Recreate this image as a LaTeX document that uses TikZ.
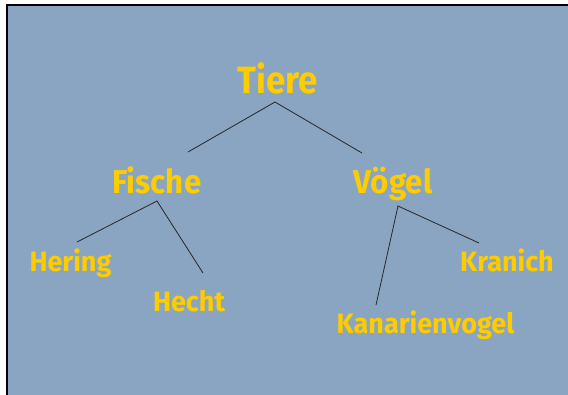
\documentclass[tikz,border=0pt]{standalone}
\usepackage{fontspec}
\setmainfont{Fira Sans}
\definecolor{bgblue}{HTML}{8AA5C2}
\definecolor{ylw}{HTML}{FFCC00}
\newcommand{\sqz}[2]{\scalebox{#1}[1]{#2}}
\tikzset{
  lbl/.style={text=ylw, font=\bfseries, inner sep=0pt, anchor=base},
  big/.style={lbl, font=\bfseries\fontsize{38}{40}\selectfont},
  mid/.style={lbl, font=\bfseries\fontsize{33}{35}\selectfont},
  small/.style={lbl, font=\bfseries\fontsize{28}{30}\selectfont},
  edge/.style={draw=black!85, line width=0.8pt}
}
\begin{document}
\begin{tikzpicture}[x=1pt,y=-1pt]
\useasboundingbox (0,0) rectangle (568,394);
\fill[white] (0,0) rectangle (568,394);
\fill[bgblue] (7,5) rectangle (570,396);
\draw[black, line width=1.6pt] (7,396) -- (7,5) -- (570,5);

\node[big]   (tiere)  at (277.5,93)  {\sqz{0.92}{Tiere}};
\node[mid]   (fische) at (157,193) {\sqz{0.95}{Fische}};
\node[mid]   (voegel) at (393,193) {\sqz{0.95}{Vögel}};
\node[small] (hering) at (70.5,271)  {\sqz{0.965}{Hering}};
\node[small] (hecht)  at (189,311) {\sqz{0.965}{Hecht}};
\node[small] (kranich) at (507,271) {\sqz{0.965}{Kranich}};
\node[small] (kanar)  at (425.5,333) {\sqz{0.965}{Kanarienvogel}};

\coordinate (t0) at (275,102);
\coordinate (tl) at (188,152);
\coordinate (tr) at (362,153);
\coordinate (f0) at (157,201);
\coordinate (fl) at (77,242);
\coordinate (fr) at (203,273);
\coordinate (v0) at (398,206);
\coordinate (vl) at (376,305);
\coordinate (vr) at (479,243);

\draw[edge] (tl) -- (t0) -- (tr);
\draw[edge] (fl) -- (f0) -- (fr);
\draw[edge] (vl) -- (v0) -- (vr);
\end{tikzpicture}
\end{document}
